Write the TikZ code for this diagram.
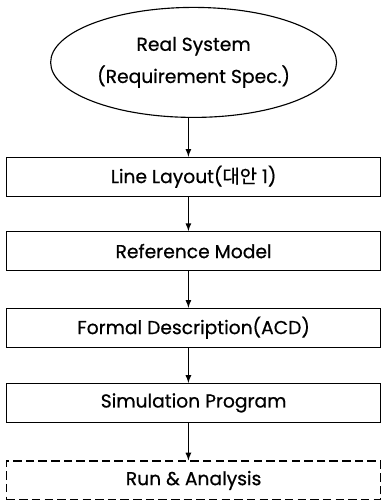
\documentclass[tikz,border=0pt]{standalone}
\usepackage{fontspec}
\setmainfont{Poppins}[FakeBold=0.6]
\newfontfamily\krfont{Noto Sans CJK KR}[FakeBold=0.6]
\usetikzlibrary{arrows,%
                shapes,positioning}

\begin{document}
\begin{tikzpicture}
  \tikzset{StepBox/.style = {shape          = rectangle,
                             draw,
                             line width     = 0.8pt,
                             text           = black,
                             inner sep      = 2pt,
                             minimum width  = 9.35cm,
                             minimum height = 0.97cm}}
  \useasboundingbox (0,0) rectangle (9.6,-12.6);
    \begin{scope}[every node/.style={font=\fontsize{13.3}{15}\selectfont}, line width=0.8pt, flow/.style={-latex, line width=0.9pt, transform canvas={xshift=-0.13cm}}]
	%%% SYSTEM %%%
	\node[ellipse, draw, minimum width=6.45cm, minimum height=2.75cm, align=center](real) at (4.84,-1.56){Real System\\[6pt](Requirement Spec.)};
	%%% ETAPES %%%
	\node[StepBox, below=0.97cm of real](layout){Line Layout({\krfont 대안} 1)};
	\node[StepBox, below=0.86cm of layout](refmodel){Reference Model};
	\node[StepBox, below=0.92cm of refmodel](formal){Formal Description(ACD)};
	\node[StepBox, below=0.88cm of formal](simprog){Simulation Program};
	\node[StepBox, below=0.94cm of simprog, dash pattern=on 6pt off 3pt](run){Run \& Analysis};
	%% FLECHES
	\draw[flow](real) to (layout);
	\draw[flow](layout) to (refmodel);
	\draw[flow](refmodel) to (formal);
	\draw[flow](formal) to (simprog);
	\draw[flow](simprog) to (run);
  \end{scope}
\end{tikzpicture}
\end{document}
